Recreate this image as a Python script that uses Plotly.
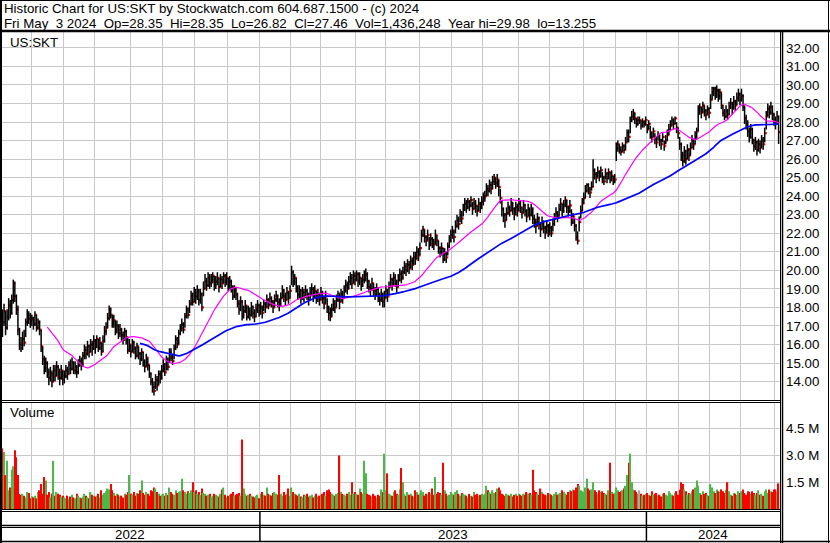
import numpy as np
import pandas as pd
import plotly.graph_objects as go

# months shown, trading days in each month
months = ["2022-05", "2022-06", "2022-07", "2022-08", "2022-09", "2022-10", "2022-11", "2022-12",
          "2023-01", "2023-02", "2023-03", "2023-04", "2023-05", "2023-06", "2023-07", "2023-08",
          "2023-09", "2023-10", "2023-11", "2023-12",
          "2024-01", "2024-02", "2024-03", "2024-04", "2024-05"]
month_days = [19, 21, 20, 23, 21, 21, 21, 21,
              20, 19, 23, 19, 22, 21, 20, 23, 20, 22, 21, 20,
              21, 20, 20, 22, 3]
years = ["2022", "2023", "2024"]

# daily closes (one line per month)
close = [
    17.2, 17.8, 16.9, 17.5, 18.1, 17.7, 18.4, 19.3, 18.6, 17.9, 16.8, 16.0, 15.8, 16.3, 16.1, 17.2, 17.6, 17.4, 17.3,
    17.4, 17.1, 17.6, 16.9, 17.2, 16.8, 15.9, 15.2, 14.7, 15.0, 14.5, 14.2, 14.4, 14.0, 14.6, 14.3, 14.8, 14.5, 14.2, 14.6, 14.1,
    14.3, 14.6, 14.4, 14.9, 14.7, 15.0, 14.6, 14.8, 14.5, 14.9, 15.1, 14.9, 15.4, 15.7, 15.5, 15.9, 15.6, 16.0, 15.8, 16.2,
    15.9, 16.3, 15.8, 16.1, 15.6, 16.2, 16.7, 16.9, 17.4, 17.9, 17.6, 17.1, 17.3, 16.8, 17.0, 16.6, 16.8, 16.5, 16.3, 16.7, 16.4, 15.7, 16.0,
    15.6, 16.1, 15.8, 15.4, 15.9, 15.5, 15.2, 15.6, 15.0, 14.8, 15.3, 14.9, 14.4, 14.0, 13.7, 13.5, 14.1, 13.8, 14.4, 14.2, 14.6,
    14.9, 14.5, 15.2, 14.8, 15.6, 15.3, 15.1, 15.8, 16.3, 16.0, 16.6, 16.9, 17.1, 16.8, 17.5, 17.9, 17.6, 18.2, 18.6, 18.3, 18.8,
    18.6, 18.9, 18.4, 18.7, 18.0, 19.0, 19.4, 19.2, 19.6, 19.3, 19.5, 19.7, 19.2, 19.4, 19.6, 19.1, 19.5, 19.3, 19.7, 19.4, 19.6,
    19.2, 19.4, 19.1, 18.6, 18.9, 18.7, 18.2, 17.9, 18.3, 17.6, 17.8, 18.1, 17.5, 17.8, 17.6, 18.0, 17.7, 17.5, 17.9, 18.1, 17.8,
    18.0, 17.7, 18.2, 18.0, 18.4, 18.1, 18.5, 18.3, 18.0, 18.4, 18.6, 18.3, 18.1, 18.5, 18.9, 18.6, 18.4, 18.8, 18.5, 18.9,
    19.9, 19.4, 19.6, 19.0, 18.7, 18.9, 18.5, 18.8, 18.6, 18.9, 18.7, 18.4, 18.8, 19.0, 18.6, 18.9, 18.5, 18.7, 18.4,
    18.8, 18.5, 18.2, 18.6, 18.0, 17.7, 17.5, 17.9, 18.2, 18.0, 18.4, 18.6, 18.3, 18.7, 18.5, 18.9, 19.2, 19.0, 19.4, 19.6, 19.3, 19.7, 19.5,
    19.8, 19.4, 19.6, 19.2, 19.5, 19.7, 19.8, 19.4, 19.1, 19.0, 19.3, 18.9, 18.7, 19.0, 18.6, 18.4, 18.7, 18.3, 18.5,
    18.9, 18.6, 19.1, 19.5, 19.2, 19.6, 19.4, 19.1, 19.5, 19.8, 19.6, 19.9, 20.2, 20.0, 20.3, 20.1, 20.5, 20.3, 20.7, 20.6, 21.0, 20.8,
    21.2, 21.9, 22.2, 21.8, 21.6, 21.9, 21.4, 21.7, 21.5, 21.4, 21.9, 21.6, 21.2, 21.0, 21.2, 20.6, 20.9, 20.7, 21.3, 21.6, 21.9,
    22.1, 21.8, 22.4, 22.7, 22.5, 23.0, 22.8, 23.3, 23.6, 23.4, 23.7, 23.5, 23.8, 23.3, 23.6, 23.5, 23.2, 23.6, 23.4, 23.7,
    23.9, 24.0, 24.4, 24.3, 24.6, 24.4, 24.8, 25.0, 24.7, 24.9, 24.5, 23.9, 23.3, 23.0, 22.7, 23.1, 23.4, 23.2, 23.6, 23.3, 23.0, 23.4, 23.2,
    23.6, 23.4, 23.1, 23.5, 23.2, 22.9, 23.3, 23.0, 23.3, 22.8, 22.6, 22.4, 22.8, 22.5, 22.2, 22.6, 22.3, 22.0, 22.4, 22.1,
    22.3, 22.0, 22.5, 22.8, 23.1, 22.9, 23.3, 23.6, 23.2, 23.5, 23.8, 23.4, 23.2, 23.5, 22.6, 22.9, 22.4, 21.8, 21.6, 22.6, 23.2, 23.6,
    23.9, 24.3, 24.6, 24.4, 24.2, 24.5, 25.4, 25.2, 25.0, 25.3, 25.1, 25.4, 25.0, 24.8, 25.2, 25.0, 25.3, 24.9, 25.1, 24.8, 24.9,
    26.6, 26.8, 26.5, 26.4, 26.7, 26.5, 26.9, 27.4, 27.2, 28.1, 28.3, 28.5, 28.2, 27.9, 28.1, 28.1, 27.8, 28.0, 27.9, 28.1,
    27.6, 27.9, 27.4, 27.2, 27.5, 27.1, 26.9, 27.3, 27.0, 26.8, 27.2, 26.7, 27.0, 27.3, 27.6, 27.8, 28.1, 27.9, 28.2, 27.7, 27.4,
    26.8, 26.2, 25.9, 26.4, 26.0, 26.5, 26.2, 26.6, 27.0, 26.8, 27.2, 27.5, 28.6, 28.8, 28.5, 28.9, 28.6, 28.4, 28.7, 28.5,
    29.2, 29.6, 29.8, 29.5, 29.7, 29.4, 29.6, 28.9, 28.5, 28.3, 28.6, 28.4, 28.8, 29.0, 28.7, 29.1, 28.9, 29.3, 29.5, 29.2,
    29.4, 28.8, 28.2, 27.9, 27.5, 27.2, 27.6, 27.0, 26.7, 26.9, 26.5, 26.8, 26.6, 27.0, 26.8, 27.4, 28.3, 28.7, 28.5, 28.8, 28.4, 28.1,
    28.0, 28.3, 27.46,
]

high = [
    17.9, 18.2, 17.8, 17.9, 18.5, 18.4, 18.7, 19.5, 19.4, 18.7, 18.1, 16.9, 16.4, 16.7, 16.8, 17.4, 17.9, 17.8, 17.7,
    17.6, 17.5, 17.8, 17.6, 17.4, 17.3, 16.8, 15.9, 15.4, 15.3, 15.1, 14.7, 14.8, 14.6, 14.9, 14.9, 15.1, 14.9, 14.7, 14.9, 14.6,
    14.6, 14.9, 14.8, 15.1, 15.2, 15.3, 15.1, 15.1, 14.9, 15.2, 15.4, 15.3, 15.6, 16.0, 15.9, 16.2, 16.0, 16.3, 16.2, 16.5,
    16.3, 16.5, 16.3, 16.4, 16.1, 16.5, 17.0, 17.2, 17.7, 18.1, 18.0, 17.6, 17.6, 17.3, 17.3, 17.1, 17.1, 16.9, 16.7, 16.9, 16.8, 16.4, 16.3,
    16.0, 16.3, 16.2, 15.9, 16.1, 15.9, 15.6, 15.8, 15.6, 15.2, 15.5, 15.3, 14.9, 14.5, 14.2, 14.0, 14.4, 14.3, 14.6, 14.6, 14.9,
    15.2, 15.0, 15.4, 15.3, 15.8, 15.8, 15.5, 16.0, 16.5, 16.4, 16.8, 17.1, 17.4, 17.2, 17.7, 18.1, 18.0, 18.4, 18.9, 18.8, 19.1,
    19.0, 19.2, 19.0, 19.0, 18.8, 19.4, 19.8, 19.6, 19.9, 19.8, 19.8, 19.9, 19.7, 19.7, 19.9, 19.6, 19.8, 19.7, 19.9, 19.8, 19.9,
    19.6, 19.7, 19.5, 19.2, 19.2, 19.1, 18.8, 18.4, 18.6, 18.4, 18.1, 18.4, 18.1, 18.1, 18.0, 18.3, 18.1, 17.9, 18.2, 18.4, 18.2,
    18.3, 18.1, 18.4, 18.3, 18.7, 18.5, 18.8, 18.6, 18.4, 18.7, 18.9, 18.7, 18.5, 18.8, 19.2, 19.0, 18.8, 19.1, 18.9, 19.2,
    20.25, 20.0, 19.8, 19.6, 19.2, 19.2, 19.0, 19.1, 19.0, 19.2, 19.0, 18.8, 19.1, 19.3, 19.1, 19.2, 18.9, 19.0, 18.8,
    19.1, 18.9, 18.6, 18.9, 18.5, 18.1, 18.0, 18.2, 18.5, 18.4, 18.7, 18.9, 18.8, 19.0, 18.9, 19.2, 19.5, 19.4, 19.7, 19.9, 19.8, 20.0, 19.9,
    20.0, 19.9, 19.9, 19.6, 19.8, 20.0, 20.1, 19.9, 19.5, 19.3, 19.6, 19.3, 19.1, 19.3, 19.1, 18.8, 19.0, 18.8, 18.9,
    19.2, 19.0, 19.4, 19.8, 19.6, 19.9, 19.8, 19.5, 19.8, 20.1, 20.0, 20.2, 20.5, 20.4, 20.6, 20.5, 20.8, 20.7, 21.0, 21.0, 21.3, 21.2,
    21.5, 22.2, 22.4, 22.2, 21.9, 22.2, 21.8, 22.0, 21.8, 21.7, 22.2, 21.9, 21.6, 21.3, 21.5, 21.2, 21.2, 21.0, 21.5, 21.9, 22.2,
    22.4, 22.2, 22.7, 23.0, 22.9, 23.3, 23.2, 23.6, 23.9, 23.8, 23.9, 23.8, 24.0, 23.7, 23.9, 23.8, 23.5, 23.9, 23.7, 24.0,
    24.2, 24.3, 24.7, 24.6, 24.9, 24.8, 25.1, 25.2, 25.0, 25.2, 24.9, 24.4, 23.8, 23.4, 23.1, 23.4, 23.7, 23.5, 23.9, 23.7, 23.4, 23.7, 23.6,
    23.9, 23.8, 23.4, 23.8, 23.6, 23.3, 23.6, 23.4, 23.6, 23.4, 23.0, 22.8, 23.1, 22.9, 22.6, 22.9, 22.7, 22.4, 22.7, 22.5,
    22.6, 22.4, 22.8, 23.1, 23.4, 23.2, 23.6, 23.9, 23.6, 23.8, 24.0, 23.8, 23.5, 23.8, 23.3, 23.1, 22.8, 22.5, 22.1, 22.9, 23.5, 23.9,
    24.2, 24.6, 24.7, 24.7, 24.5, 24.8, 26.0, 25.5, 25.3, 25.6, 25.4, 25.6, 25.3, 25.1, 25.5, 25.3, 25.5, 25.3, 25.4, 25.1, 25.2,
    26.9, 27.0, 26.8, 26.7, 26.9, 26.8, 27.2, 27.6, 27.6, 28.3, 28.6, 28.7, 28.5, 28.2, 28.3, 28.3, 28.1, 28.2, 28.1, 28.3,
    27.9, 28.1, 27.8, 27.5, 27.7, 27.4, 27.2, 27.5, 27.3, 27.1, 27.4, 27.0, 27.3, 27.6, 27.9, 28.1, 28.3, 28.2, 28.3, 28.0, 27.7,
    27.2, 26.9, 26.4, 26.7, 26.5, 26.8, 26.6, 26.9, 27.3, 27.1, 27.5, 27.7, 28.9, 29.0, 28.8, 29.1, 28.9, 28.7, 28.9, 28.8,
    29.5, 29.9, 29.9, 29.9, 29.98, 29.8, 29.8, 29.6, 28.9, 28.7, 28.9, 28.7, 29.1, 29.3, 29.1, 29.4, 29.2, 29.6, 29.8, 29.6,
    29.8, 29.5, 28.9, 28.4, 28.1, 27.7, 27.9, 27.7, 27.1, 27.2, 27.0, 27.1, 27.0, 27.3, 27.2, 27.7, 28.6, 29.0, 28.9, 29.1, 28.9, 28.5,
    28.3, 28.6, 28.35,
]

low = [
    16.4, 17.0, 16.5, 16.8, 17.3, 17.4, 17.6, 18.2, 18.3, 17.6, 16.5, 15.7, 15.6, 15.7, 15.9, 16.4, 17.0, 17.1, 16.9,
    17.0, 16.8, 17.0, 16.7, 16.8, 16.5, 15.6, 14.9, 14.4, 14.5, 14.2, 13.8, 14.0, 13.7, 14.0, 14.0, 14.3, 14.1, 13.8, 14.1, 13.8,
    13.9, 14.2, 14.1, 14.4, 14.4, 14.6, 14.4, 14.4, 14.2, 14.4, 14.8, 14.6, 14.8, 15.2, 15.2, 15.4, 15.3, 15.6, 15.4, 15.7,
    15.5, 15.8, 15.6, 15.7, 15.4, 15.6, 16.1, 16.5, 16.9, 17.3, 17.4, 16.9, 16.9, 16.5, 16.6, 16.3, 16.4, 16.2, 16.0, 16.2, 16.0, 15.5, 15.6,
    15.3, 15.6, 15.5, 15.2, 15.3, 15.2, 14.9, 15.1, 14.8, 14.5, 14.8, 14.6, 14.2, 13.8, 13.4, 13.255, 13.6, 13.5, 13.8, 13.9, 14.1,
    14.5, 14.3, 14.6, 14.6, 15.0, 15.1, 14.9, 15.2, 15.7, 15.8, 16.0, 16.5, 16.7, 16.6, 16.9, 17.4, 17.4, 17.7, 18.1, 18.1, 18.3,
    18.2, 18.4, 18.1, 18.2, 17.8, 18.6, 19.0, 18.9, 19.1, 19.0, 19.1, 19.3, 18.9, 19.0, 19.2, 18.8, 19.1, 19.0, 19.3, 19.1, 19.2,
    18.9, 19.0, 18.8, 18.4, 18.5, 18.4, 18.0, 17.6, 17.8, 17.3, 17.4, 17.7, 17.3, 17.4, 17.3, 17.5, 17.4, 17.2, 17.5, 17.7, 17.5,
    17.6, 17.4, 17.8, 17.7, 18.0, 17.9, 18.1, 18.0, 17.7, 18.0, 18.3, 18.0, 17.8, 18.1, 18.5, 18.3, 18.1, 18.4, 18.2, 18.5,
    19.2, 19.1, 19.2, 18.8, 18.4, 18.5, 18.2, 18.4, 18.3, 18.5, 18.4, 18.1, 18.4, 18.6, 18.3, 18.5, 18.2, 18.3, 18.1,
    18.4, 18.2, 17.9, 18.2, 17.7, 17.3, 17.25, 17.5, 17.8, 17.7, 18.0, 18.3, 17.9, 18.3, 18.2, 18.5, 18.8, 18.7, 19.0, 19.2, 19.0, 19.3, 19.2,
    19.4, 19.1, 19.2, 18.9, 19.1, 19.3, 19.4, 19.0, 18.8, 18.6, 18.9, 18.6, 18.4, 18.6, 18.3, 18.1, 18.3, 18.0, 18.0,
    18.5, 18.3, 18.7, 19.1, 18.9, 19.2, 19.1, 18.8, 19.1, 19.4, 19.3, 19.5, 19.8, 19.7, 19.9, 19.8, 20.1, 20.0, 20.3, 20.3, 20.6, 20.5,
    20.8, 21.5, 21.8, 21.5, 21.3, 21.6, 21.1, 21.3, 21.2, 21.1, 21.4, 21.3, 20.9, 20.7, 20.8, 20.4, 20.5, 20.4, 20.8, 21.2, 21.5,
    21.7, 21.5, 22.0, 22.3, 22.2, 22.6, 22.5, 22.9, 23.2, 23.1, 23.3, 23.2, 23.4, 23.0, 23.3, 23.1, 22.9, 23.2, 23.1, 23.3,
    23.5, 23.7, 24.0, 24.0, 24.2, 24.1, 24.4, 24.6, 24.4, 24.5, 24.0, 23.6, 22.9, 22.6, 22.3, 22.7, 23.0, 22.9, 23.2, 23.0, 22.7, 23.0, 22.9,
    23.2, 23.1, 22.8, 23.1, 22.9, 22.6, 22.9, 22.7, 22.9, 22.5, 22.3, 22.0, 22.4, 22.2, 21.8, 22.2, 22.0, 21.7, 22.0, 21.8,
    21.9, 21.8, 22.1, 22.4, 22.8, 22.6, 22.9, 23.2, 22.9, 23.1, 23.4, 23.1, 22.9, 23.1, 22.4, 22.5, 22.1, 21.6, 21.4, 22.1, 22.8, 23.2,
    23.6, 23.9, 24.2, 24.1, 23.9, 24.3, 24.5, 24.9, 24.7, 25.0, 24.8, 25.0, 24.7, 24.6, 24.9, 24.7, 24.9, 24.7, 24.8, 24.6, 24.7,
    25.9, 26.4, 26.3, 26.2, 26.4, 26.3, 26.5, 26.9, 26.9, 27.4, 28.0, 28.1, 27.9, 27.7, 27.8, 27.9, 27.6, 27.7, 27.7, 27.8,
    27.4, 27.6, 27.1, 26.9, 27.2, 26.8, 26.6, 27.0, 26.7, 26.5, 26.9, 26.45, 26.8, 27.0, 27.3, 27.5, 27.8, 27.6, 27.9, 27.4, 27.1,
    26.5, 25.9, 25.6, 25.8, 25.7, 26.0, 25.9, 26.2, 26.6, 26.5, 26.8, 27.1, 27.5, 28.4, 28.2, 28.5, 28.3, 28.1, 28.4, 28.2,
    28.7, 29.2, 29.4, 29.2, 29.3, 29.1, 29.2, 28.7, 28.3, 28.1, 28.2, 28.1, 28.4, 28.7, 28.4, 28.7, 28.6, 28.9, 29.1, 28.9,
    29.1, 28.6, 27.9, 27.6, 27.2, 26.9, 27.1, 26.8, 26.4, 26.5, 26.2, 26.4, 26.3, 26.6, 26.5, 26.9, 27.6, 28.3, 28.2, 28.4, 28.1, 27.8,
    27.6, 27.9, 26.82,
]

# daily volume, thousands of shares
volume_k = [
    3400, 3200, 1900, 2700, 1050, 1200, 2200, 2400, 3300, 2900, 1900, 850, 800, 850, 750, 650, 950, 900, 600,
    700, 650, 750, 600, 950, 1050, 1400, 850, 1800, 1600, 800, 950, 650, 850, 2700, 750, 950, 850, 800, 700, 750,
    650, 600, 750, 550, 700, 800, 650, 600, 850, 750, 650, 600, 700, 850, 750, 650, 600, 950, 800, 750,
    700, 750, 850, 650, 1050, 800, 900, 1000, 1150, 1100, 1400, 1050, 900, 750, 850, 800, 700, 750, 650, 850, 800, 950, 1900,
    850, 800, 950, 750, 900, 850, 1050, 1600, 900, 800, 950, 850, 750, 1050, 1000, 1200, 1150, 950, 850, 750, 800,
    850, 750, 900, 800, 1200, 950, 850, 800, 1050, 900, 950, 1000, 1700, 1050, 950, 850, 1000, 900, 1050, 1500, 950,
    1050, 850, 950, 800, 1150, 900, 850, 750, 800, 850, 700, 750, 850, 800, 750, 700, 850, 1100, 1200, 800, 650,
    750, 800, 850, 950, 750, 800, 850, 900, 750, 3900, 1150, 850, 750, 800, 850, 750, 700, 650, 750, 800, 600,
    850, 950, 800, 750, 1200, 850, 800, 750, 900, 950, 850, 800, 1900, 850, 750, 950, 800, 850, 1150, 750,
    1200, 950, 850, 800, 750, 850, 700, 650, 800, 750, 850, 700, 750, 800, 650, 750, 850, 700, 750,
    800, 850, 950, 750, 1050, 1100, 950, 850, 800, 750, 850, 900, 3000, 950, 850, 800, 750, 850, 950, 800, 1500, 850, 950,
    850, 800, 1150, 950, 850, 2700, 2000, 850, 800, 750, 700, 850, 750, 650, 800, 750, 1100, 950, 3100,
    1050, 2000, 850, 800, 750, 950, 1050, 850, 800, 1100, 2300, 1500, 850, 750, 950, 800, 850, 750, 700, 1050, 950, 800,
    850, 1050, 950, 750, 850, 800, 950, 850, 1150, 800, 1800, 850, 950, 900, 800, 2600, 1050, 850, 750, 800, 950,
    850, 800, 950, 1050, 850, 750, 900, 850, 800, 750, 650, 850, 750, 700, 950, 800, 850, 750, 800, 850,
    800, 850, 1300, 1050, 950, 850, 1050, 900, 950, 1150, 1200, 1050, 850, 800, 750, 850, 800, 750, 850, 700, 800, 850, 750,
    850, 800, 750, 850, 800, 950, 850, 900, 800, 2200, 1050, 950, 850, 800, 1150, 950, 850, 800, 750, 900,
    850, 800, 750, 850, 950, 800, 850, 900, 1050, 950, 850, 800, 950, 1050, 1000, 1100, 1050, 1200, 1400, 1300, 1050, 1000,
    950, 1200, 1700, 1150, 1050, 1100, 1500, 1050, 950, 850, 1050, 950, 1000, 900, 850, 800, 1050, 2600, 950, 850, 900,
    1200, 1050, 950, 1000, 1050, 1150, 1300, 1900, 2600, 3100, 1500, 1100, 1050, 950, 850, 1050, 850, 750, 800, 850,
    900, 800, 750, 1000, 800, 850, 900, 750, 800, 700, 850, 900, 800, 750, 1000, 900, 800, 750, 900, 1000, 800,
    1100, 1500, 1400, 1100, 1000, 800, 900, 850, 1000, 1100, 1200, 1600, 1300, 900, 800, 1000, 850, 900, 800, 750,
    1400, 1200, 1000, 900, 1100, 1000, 950, 1100, 1000, 900, 1100, 1500, 1000, 800, 750, 900, 850, 800, 1000, 900,
    1000, 1100, 900, 800, 1000, 950, 850, 1000, 900, 800, 900, 1050, 800, 850, 750, 1000, 1100, 900, 1100, 1000, 950, 1100,
    1100, 1000, 1436,
]

W, H = 830, 543
FONT = "Liberation Sans, Arial, sans-serif"
GRID = "#c8c8c8"
GREEN = "#4cb847"
RED = "#ff0000"

n = len(close)
idx = np.arange(n)
c = pd.Series(close)
ma_short = c.rolling(30).mean()
ma_long = c.rolling(90).mean()

chg = c.diff().fillna(-1)
vol_colors = np.where(chg > 0, GREEN, np.where(chg < 0, RED, "#a8a8a8"))

# high-low sticks as one broken line
seg_x, seg_y = [], []
for i in range(n):
    seg_x += [i, i, None]
    seg_y += [low[i], high[i], None]

month_start = np.concatenate([[0], np.cumsum(month_days)[:-1]])
grid_x = [s - 0.5 for s in month_start[1:]]
year_start = [month_start[k] - 0.5 for k, m in enumerate(months) if m.endswith("-01")]

x_range = [-1.6, n - 0.1]


def py(y):
    return 1 - y / H


fig = go.Figure()
# close ticks go under the sticks so neighbouring bars partly cover them, like the original
fig.add_trace(go.Scatter(x=idx + 0.65, y=close, mode="markers",
                         marker=dict(symbol="square", size=2.2, color=RED, line=dict(width=0)),
                         xaxis="x", yaxis="y"))
fig.add_trace(go.Scatter(x=seg_x, y=seg_y, mode="lines", line=dict(color="black", width=1.5),
                         hoverinfo="skip", xaxis="x", yaxis="y"))
fig.add_trace(go.Scatter(x=idx, y=ma_short, mode="lines", line=dict(color="#ff00ff", width=1.2),
                         xaxis="x", yaxis="y"))
fig.add_trace(go.Scatter(x=idx, y=ma_long, mode="lines", line=dict(color="#0000ff", width=1.7),
                         xaxis="x", yaxis="y"))
fig.add_trace(go.Bar(x=idx, y=np.array(volume_k) * 1000, marker=dict(color=vol_colors, line=dict(width=0)),
                     xaxis="x2", yaxis="y2"))

xaxis_common = dict(range=x_range, domain=[0, 780 / W], tickvals=grid_x, showticklabels=False,
                    showgrid=True, gridcolor=GRID, gridwidth=1, zeroline=False, showline=False, ticks="")

price_ticks = list(range(14, 33))
vol_ticks = [1.5e6, 3.0e6, 4.5e6]

fig.update_layout(
    width=W, height=H,
    margin=dict(l=0, r=0, t=0, b=0),
    paper_bgcolor="white", plot_bgcolor="white",
    showlegend=False, bargap=0.2,
    font=dict(family=FONT, color="black", size=13),
    xaxis=dict(anchor="y", **xaxis_common),
    xaxis2=dict(anchor="y2", matches="x", **xaxis_common),
    yaxis=dict(domain=[py(400), py(32)], range=[13.007, 32.858], side="right",
               tickvals=price_ticks, ticktext=[f"{v:.2f}" for v in price_ticks],
               showgrid=True, gridcolor=GRID, zeroline=False, ticks="",
               tickfont=dict(size=13.3), ticklabelstandoff=5),
    yaxis2=dict(domain=[py(509), py(402)], range=[0, 6.0e6], side="right",
                tickvals=vol_ticks, ticktext=[f"{v / 1e6:.1f} M" for v in vol_ticks],
                showgrid=True, gridcolor=GRID, zeroline=False, ticks="",
                tickfont=dict(size=13.3), ticklabelstandoff=5),
)


def line_px(x0, y0, x1, y1, w=1):
    return dict(type="line", xref="paper", yref="paper", x0=x0 / W, x1=x1 / W,
                y0=py(y0), y1=py(y1), line=dict(color="black", width=w))


shapes = [
    line_px(1, 0, 1, 543, 2),          # left border
    line_px(0, 0.5, W, 0.5, 1),        # top border
    line_px(828.5, 0, 828.5, 543, 1),  # right border
    line_px(0, 541.5, W, 541.5, 1.5),  # bottom border
    line_px(0, 31, W, 31, 2.5),        # under title
    line_px(0, 400.5, 781, 400.5, 1),
    line_px(0, 402.5, 781, 402.5, 1),
    line_px(0, 509.5, 781, 509.5, 1.2),
    line_px(0, 511.5, 781, 511.5, 1),
    line_px(0, 525.5, 781, 525.5, 1.5),
    line_px(0, 527.5, 781, 527.5, 1),
    line_px(780.5, 31, 780.5, 543, 1),
    line_px(782.5, 31, 782.5, 543, 1.5),
]
for xs in year_start:
    shapes.append(dict(type="line", xref="x", yref="paper", x0=xs, x1=xs, y0=py(511), y1=py(541),
                       line=dict(color="black", width=1.5)))
fig.update_layout(shapes=shapes)

sp = "\u00a0"
title1 = "Historic Chart for US:SKT by Stockwatch.com 604.687.1500 - (c) 2024"
title2 = (f"Fri May {sp}3 2024{sp}{sp}Op=28.35{sp}{sp}Hi=28.35{sp}{sp}Lo=26.82{sp}{sp}Cl=27.46"
          f"{sp}{sp}Vol=1,436,248{sp}{sp}Year hi=29.98{sp}{sp}lo=13.255")

annotations = [
    dict(text=title1, x=2 / W, y=py(9), xanchor="left", yanchor="middle"),
    dict(text=title2, x=2 / W, y=py(23), xanchor="left", yanchor="middle"),
    dict(text="US:SKT", x=8 / W, y=py(42), xanchor="left", yanchor="middle"),
    dict(text="Volume", x=8 / W, y=py(413), xanchor="left", yanchor="middle"),
]
for a in annotations:
    a.update(xref="paper", yref="paper", showarrow=False, font=dict(size=13.3, family=FONT, color="black"))

edges = [x_range[0]] + year_start + [x_range[1]]
for k, yr in enumerate(years):
    annotations.append(dict(text=yr, x=(edges[k] + edges[k + 1]) / 2, y=py(534), xref="x", yref="paper",
                            xanchor="center", yanchor="middle", showarrow=False,
                            font=dict(size=13.3, family=FONT, color="black")))
fig.update_layout(annotations=annotations)

# page body has a default margin; drop it so the figure sits at the window corner
fig.write_html("out.html", config={"displayModeBar": False},
               post_script="document.body.style.margin='0';")
